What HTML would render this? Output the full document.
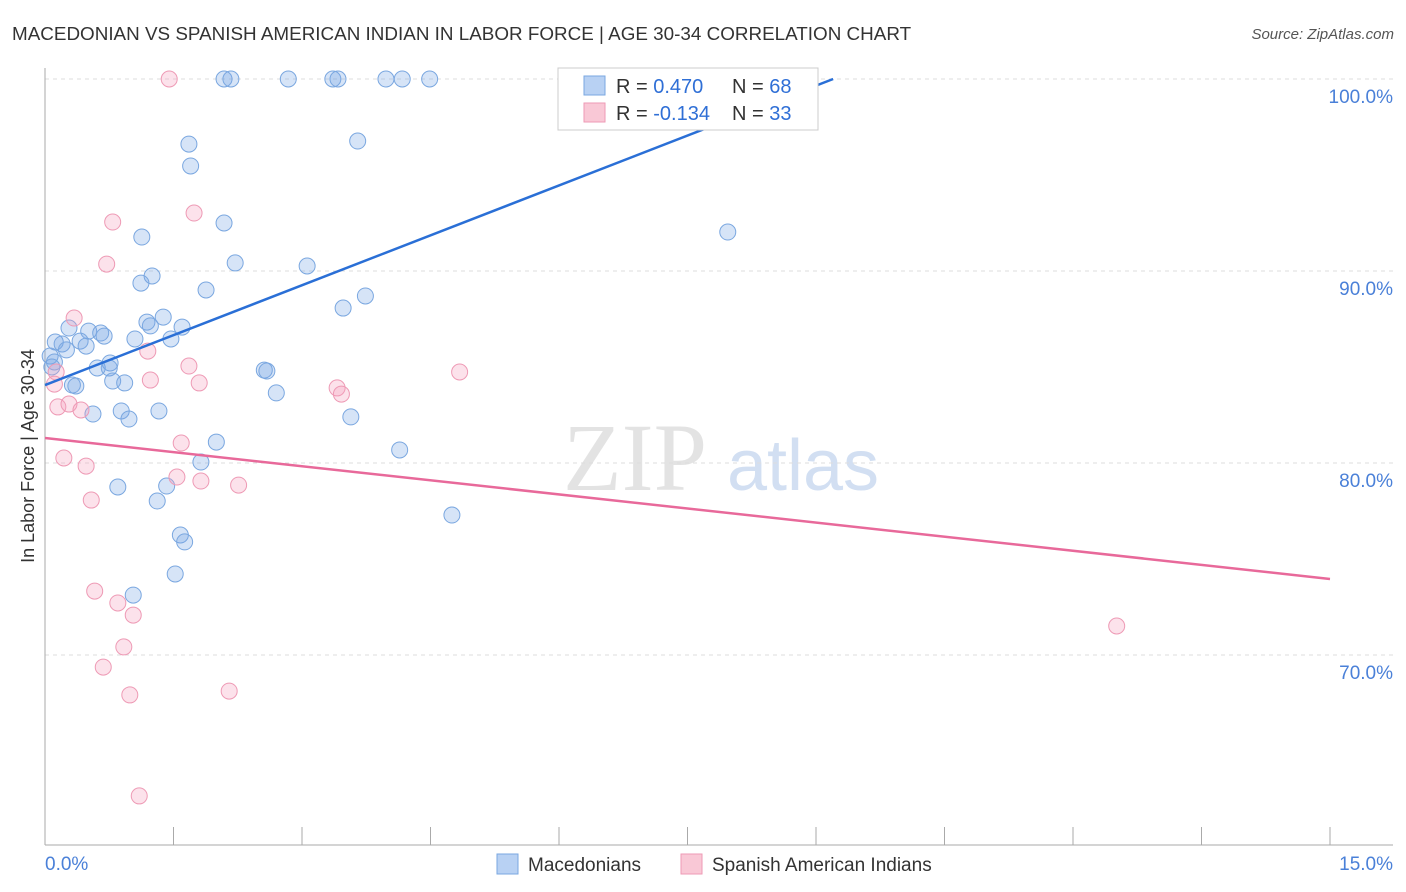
<!DOCTYPE html>
<html><head><meta charset="utf-8"><style>
body{margin:0;background:#fff;font-family:"Liberation Sans",sans-serif;}
svg{display:block}
</style></head><body>
<svg id="chart" width="1406" height="892" viewBox="0 0 1406 892" xmlns="http://www.w3.org/2000/svg">
<text x="12" y="40" font-size="18.85" fill="#333">MACEDONIAN VS SPANISH AMERICAN INDIAN IN LABOR FORCE | AGE 30-34 CORRELATION CHART</text>
<text x="1394" y="39" font-size="15" fill="#555" text-anchor="end" font-style="italic">Source: ZipAtlas.com</text>
<g>
<text x="635" y="490" font-size="96" fill="#ddd" font-family="Liberation Serif" text-anchor="middle" opacity="0.8">ZIP</text>
<text x="803" y="490" font-size="72" fill="#c7d8f0" text-anchor="middle" opacity="0.8">atlas</text>
</g>
<g id="grid"></g>
<g id="axes"></g>
<g id="points"></g>
<g id="trends"></g>
<text transform="translate(34,456) rotate(-90)" font-size="18" fill="#333" text-anchor="middle">In Labor Force | Age 30-34</text>
<g>
<rect x="558" y="68" width="260" height="62" fill="#fff" stroke="#ccc"/>
<rect x="584" y="76" width="21" height="19" fill="#b8d1f3" stroke="#7aa7e0"/>
<rect x="584" y="103" width="21" height="19" fill="#f9c8d6" stroke="#ee9ab5"/>
<text x="616" y="93" font-size="20" fill="#333">R = <tspan fill="#2f6fd6">0.470</tspan><tspan x="732">N = </tspan><tspan fill="#2f6fd6">68</tspan></text>
<text x="616" y="120" font-size="20" fill="#333">R = <tspan fill="#2f6fd6">-0.134</tspan><tspan x="732">N = </tspan><tspan fill="#2f6fd6">33</tspan></text>
</g>
<g>
<rect x="497" y="854" width="21" height="20" fill="#b8d1f3" stroke="#7aa7e0"/>
<text x="528" y="871" font-size="19" fill="#333">Macedonians</text>
<rect x="681" y="854" width="21" height="20" fill="#f9c8d6" stroke="#ee9ab5"/>
<text x="712" y="871" font-size="19" fill="#333">Spanish American Indians</text>
</g>
</svg>
<script>
const blueX=[2.09,2.17,2.84,3.36,3.42,3.98,4.17,4.49,8.11,8.21,1.68,1.70,3.65,2.09,1.13,7.97,2.22,3.06,1.25,1.12,1.88,3.74,3.48,0.28,0.51,0.65,0.69,0.12,0.20,0.41,0.48,0.25,1.05,1.19,1.23,1.38,1.60,1.47,0.06,0.11,0.08,0.61,0.76,0.75,0.79,0.93,0.32,0.36,2.56,2.59,2.70,0.56,0.89,0.98,1.33,3.57,2.00,4.14,1.82,0.85,1.42,1.31,4.75,1.58,1.63,1.52,1.03];
const blueY=[100,100,100,100,100,100,100,100,100,100,96.61,95.47,96.77,92.5,91.77,92.03,90.42,90.26,89.74,89.37,89.01,88.70,88.07,87.03,86.87,86.77,86.61,86.30,86.20,86.35,86.09,85.89,86.46,87.34,87.14,87.60,87.08,86.46,85.57,85.26,85.0,84.95,85.21,84.95,84.27,84.17,84.06,84.01,84.84,84.79,83.65,82.55,82.71,82.29,82.71,82.40,81.09,80.68,80.05,78.75,78.80,78.02,77.29,76.25,75.89,74.22,73.12];
const pinkX=[1.45,0.79,1.74,0.72,0.34,1.20,1.68,0.13,0.11,1.23,1.80,3.41,3.46,4.84,0.15,0.28,0.42,1.59,0.22,0.48,1.54,1.82,2.26,0.54,0.58,0.85,1.03,0.92,0.68,0.99,2.15,1.10,12.51];
const pinkY=[100,92.55,93.02,90.36,87.55,85.83,85.05,84.74,84.11,84.32,84.17,83.91,83.59,84.74,82.92,83.07,82.76,81.04,80.26,79.84,79.27,79.06,78.85,78.07,73.33,72.71,72.08,70.42,69.37,67.92,68.12,62.66,71.51];
const blueTrend=[[0,84.06],[9.2,100]];
const pinkTrend=[[0,81.30],[15,73.96]];
const yTicks=[100,90,80,70];
const yTickLabels=["100.0%","90.0%","80.0%","70.0%"];
const xTickVals=[0,1.5,3,4.5,6,7.5,9,10.5,12,13.5,15];
const NS="http://www.w3.org/2000/svg";
const X=v=>45+v*85.667, Y=v=>79+(100-v)*19.2;
function mk(t,a,p){const e=document.createElementNS(NS,t);for(const k in a)e.setAttribute(k,a[k]);p.appendChild(e);return e;}
const grid=document.getElementById('grid'),axes=document.getElementById('axes'),pts=document.getElementById('points'),tr=document.getElementById('trends');
yTicks.forEach((v,i)=>{
 const l=mk('line',{x1:45,x2:1393,y1:Y(v),y2:Y(v),stroke:'#ddd','stroke-dasharray':'4,4'},grid);
 
 
 const t=mk('text',{x:1393,y:Y(v)+24,'font-size':19,fill:'#4a80d8','text-anchor':'end'},axes);
 t.textContent=yTickLabels[i];
 
 
});
const ya=mk('line',{x1:45,x2:45,y1:68,y2:845,stroke:'#aaa'},axes);


const xa=mk('line',{x1:45,x2:1393,y1:845,y2:845,stroke:'#aaa'},axes);


xTickVals.forEach(v=>{
 const t=mk('line',{x1:X(v),x2:X(v),y1:827,y2:845,stroke:'#aaa'},axes);
 
 
});
[[0,"0.0%","start",45],[15,"15.0%","end",1393]].forEach(d=>{
 const t=mk('text',{x:d[3],y:870,'font-size':19,fill:'#4a80d8','text-anchor':d[2]},axes);
 t.textContent=d[1];
 
 
});
blueX.forEach((x,i)=>{
 const c=mk('circle',{cx:X(x),cy:Y(blueY[i]),r:8,fill:'rgba(120,165,230,0.3)',stroke:'#7aa7e0','stroke-width':1},pts);
 
 
});
pinkX.forEach((x,i)=>{
 const c=mk('circle',{cx:X(x),cy:Y(pinkY[i]),r:8,fill:'rgba(245,160,190,0.3)',stroke:'#ee9ab5','stroke-width':1},pts);
 
 
});
const bl=mk('line',{x1:X(blueTrend[0][0]),y1:Y(blueTrend[0][1]),x2:X(blueTrend[1][0]),y2:Y(blueTrend[1][1]),stroke:'#2a6fd6','stroke-width':2.5},tr);


const pl=mk('line',{x1:X(pinkTrend[0][0]),y1:Y(pinkTrend[0][1]),x2:X(pinkTrend[1][0]),y2:Y(pinkTrend[1][1]),stroke:'#e8699a','stroke-width':2.5},tr);


</script>
</body></html>
